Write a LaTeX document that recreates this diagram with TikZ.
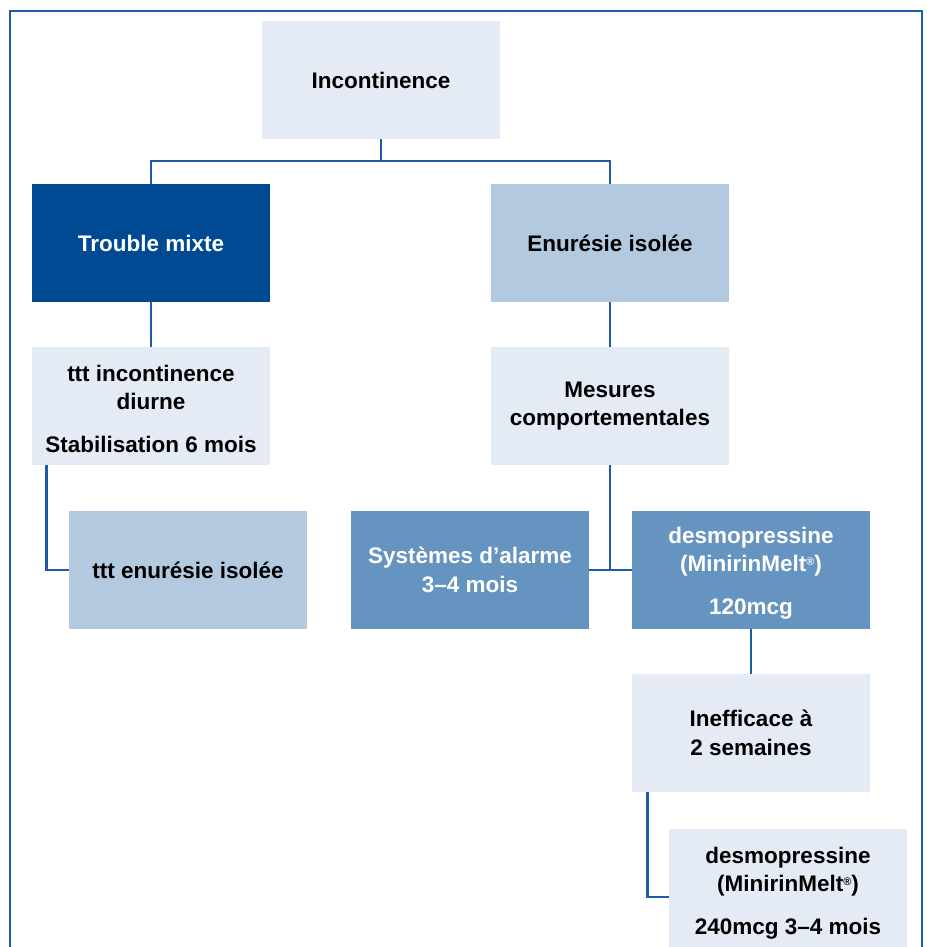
\documentclass[tikz,border=0pt]{standalone}
\usepackage{fontspec}
\setmainfont{Liberation Sans}
\definecolor{cLight}{HTML}{E4EBF4}
\definecolor{cMid}{HTML}{B3C9E0}
\definecolor{cSteel}{HTML}{6694C1}
\definecolor{cDark}{HTML}{004A93}
\definecolor{cLine}{HTML}{1F5AA6}
\newcommand{\regmark}{{\fontsize{11}{11}\selectfont\raisebox{6pt}{®}}}
\newcommand{\topstrut}{\rule{0pt}{22pt}}
\begin{document}
\begin{tikzpicture}[x=1pt,y=-1pt,
  box/.style={minimum width=238pt,minimum height=118pt,inner sep=0pt,align=center,
    font=\fontsize{22.5}{28.5}\selectfont\bfseries},
  lightbox/.style={box,fill=cLight,text=black},
  midbox/.style={box,fill=cMid,text=black},
  steelbox/.style={box,fill=cSteel,text=white},
  darkbox/.style={box,fill=cDark,text=white},
  conn/.style={draw=cLine,line width=2.8pt},
  frame/.style={draw=cLine,line width=1.6pt}]
\useasboundingbox (0,0) rectangle (926,947);
\begin{scope}
\clip (0,0) rectangle (926,947);
\draw[frame] (10,950) -- (10,11) -- (922,11) -- (922,950);
\node[lightbox] (inc) at (381,80) {Incontinence};
\node[darkbox] (tm) at (151,243) {Trouble mixte};
\node[midbox] (en) at (610,243) {Enurésie isolée};
\node[lightbox] (ti) at (151,406) {\topstrut ttt incontinence\\diurne\\[14pt]Stabilisation 6 mois};
\node[lightbox] (me) at (610,406) {Mesures\\comportementales};
\node[midbox] (te) at (188,570) {ttt enurésie isolée};
\node[steelbox] (al) at (470,570) {Systèmes d’alarme\\3–4 mois};
\node[steelbox] (dm) at (751,570) {\topstrut desmopressine\\(MinirinMelt\regmark)\\[14pt]120mcg};
\node[lightbox] (ine) at (751,733) {Inefficace à\\2 semaines};
\node[lightbox,minimum height=122pt] (d2) at (788,890) {\topstrut desmopressine\\(MinirinMelt\regmark)\\[14pt]240mcg 3–4 mois};
\coordinate (j1) at (381,161);
\draw[conn] (inc.south) -- (j1);
\draw[conn] (tm.north) |- (j1) -| (en.north);
\draw[conn] (tm.south) -- (ti.north);
\draw[conn] (en.south) -- (me.north);
\draw[conn] ([xshift=15pt]ti.south west) |- (te.west);
\draw[conn] (me.south) -- (me.south |- al.east);
\draw[conn] (al.east) -- (dm.west);
\draw[conn] (dm.south) -- (ine.north);
\draw[conn] ([xshift=16pt]ine.south west) |- ([yshift=-7pt]d2.west);
\end{scope}
\end{tikzpicture}
\end{document}
